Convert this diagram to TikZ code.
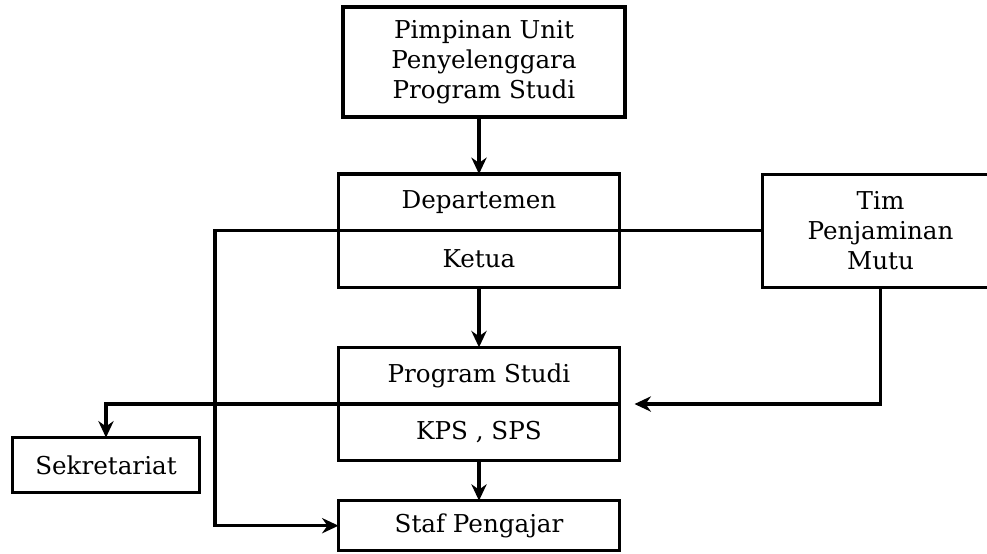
\documentclass[tikz,border=0pt]{standalone}
\usepackage{fontspec}
\setmainfont{DejaVu Serif}
\usetikzlibrary{arrows.meta, positioning, calc}

\begin{document}
\begin{tikzpicture}[
    x=0.03cm, y=-0.03cm,
    node distance=1.71cm and 4.29cm,
    box/.style={rectangle, draw, line width=2.8pt, outer sep=0pt, text centered, align=center, font=\fontsize{21}{25.6}\selectfont, inner sep=0pt},
    halfbox/.style={box, minimum width=8.43cm, minimum height=1.70cm},
    arrow/.style={line width=2.8pt,->,>={Stealth[length=14pt,width=13pt]}}
]
\useasboundingbox (0,0) rectangle (987,553);

% Nodes

\node[box, minimum width=8.46cm, minimum height=3.3cm] (pimpinan) at (484,62) {Pimpinan Unit\\Penyelenggara\\Program Studi};

% Departemen

\node[halfbox, below=of pimpinan, xshift=-0.15cm] (dept) {Departemen};

\node[halfbox, below=0cm of dept] (ketua) {Ketua};

\node[box, minimum width=7.08cm, minimum height=3.39cm, right=of dept.south east] (tim) {Tim\\Penjaminan\\Mutu};

% Program Studi

\node[halfbox, below=of ketua, yshift=-0.09cm] (prodi) {Program Studi};

\node[halfbox, below=0cm of prodi] (kps) {KPS , SPS};

\node[box, minimum width=5.61cm, minimum height=1.65cm, left=4.17cm of kps, yshift=-0.98cm] (sekretariat) {Sekretariat};

\node[halfbox, minimum height=1.5cm, below=of kps, yshift=0.51cm] (staf) {Staf Pengajar};

\coordinate (bus) at (215,0);

% Connectors

\draw[arrow] (pimpinan.south -| dept.north) -- (dept.north);
\draw[arrow] (ketua) -- (prodi);
\draw[arrow] (kps) -- (staf);

\draw[arrow] (tim.west) -- (tim.west -| bus) |- (staf.west);
\draw[arrow] (prodi.south east) -| (sekretariat.north);
\draw[arrow] (tim.south) |- ([xshift=0.45cm]prodi.south east);

\end{tikzpicture}
\end{document}
